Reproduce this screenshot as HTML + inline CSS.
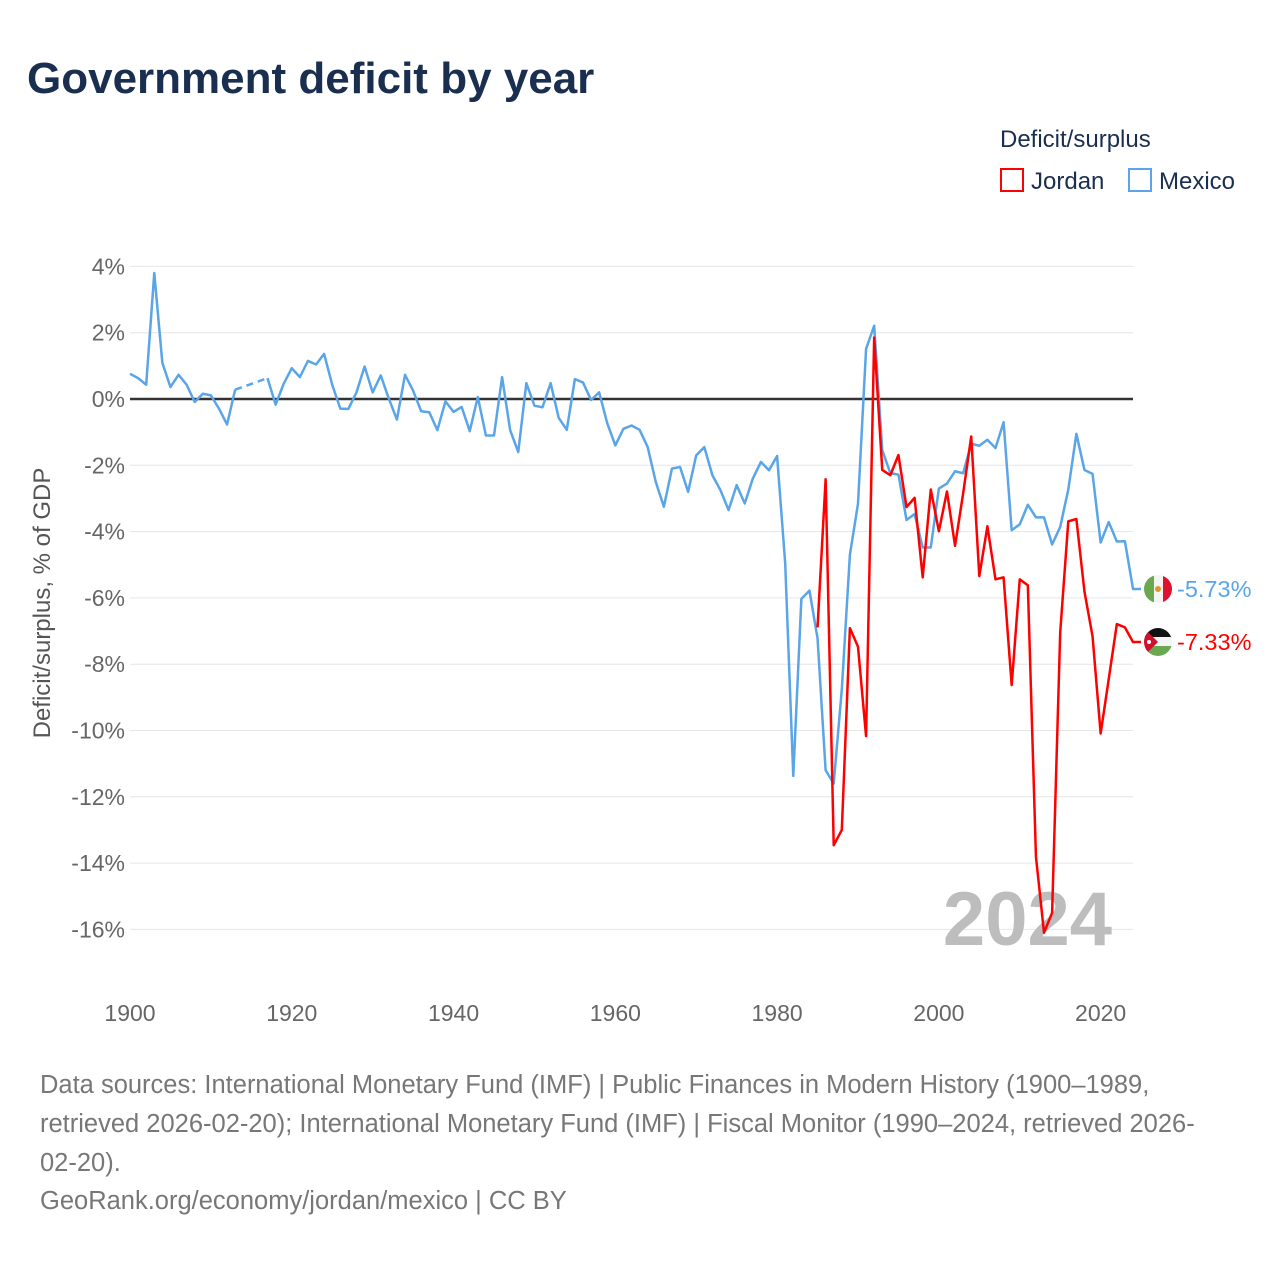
<!DOCTYPE html>
<html><head><meta charset="utf-8"><style>
body{margin:0;background:#fff;width:1280px;height:1280px;overflow:hidden;font-family:"Liberation Sans",sans-serif}
svg text{font-family:"Liberation Sans",sans-serif}
</style></head><body>
<svg id="chart" width="1280" height="1280" xmlns="http://www.w3.org/2000/svg">
<text x="27" y="93" font-size="44" font-weight="bold" fill="#1a2e4f">Government deficit by year</text>
<text x="1000" y="147" font-size="24" fill="#1a2e4f">Deficit/surplus</text>
<g><rect x="1001" y="169" width="22" height="22" fill="none" stroke="#ff0000" stroke-width="2"/><text x="1031" y="189" font-size="24" fill="#1a2e4f">Jordan</text></g>
<g><rect x="1129" y="169" width="22" height="22" fill="none" stroke="#5aa5e8" stroke-width="2"/><text x="1159" y="189" font-size="24" fill="#1a2e4f">Mexico</text></g>
<text transform="translate(50,603) rotate(-90)" text-anchor="middle" font-size="24" fill="#555">Deficit/surplus, % of GDP</text>
<g id="grid"></g>
<text x="1112" y="945" text-anchor="end" font-size="76" font-weight="bold" fill="#bdbdbd">2024</text>
<g id="series"></g>
<g>
<clipPath id="cm"><circle cx="1158" cy="589" r="14"/></clipPath>
<g clip-path="url(#cm)"><rect x="1144" y="575" width="10" height="28" fill="#6aa84f"/><rect x="1154" y="575" width="9" height="28" fill="#f4f4f4"/><rect x="1163" y="575" width="10" height="28" fill="#e0102f"/><circle cx="1158" cy="589" r="3" fill="#e0952f"/></g>
<text x="1177" y="597" font-size="23.5" fill="#5aa5e8">-5.73%</text></g>
<g>
<clipPath id="cj"><circle cx="1158" cy="642" r="14"/></clipPath>
<g clip-path="url(#cj)"><rect x="1144" y="628" width="28" height="10" fill="#111"/><rect x="1144" y="637" width="28" height="10" fill="#f4f4f4"/><rect x="1144" y="646" width="28" height="10" fill="#6aa84f"/><polygon points="1144,628 1158,642 1144,656" fill="#d0102f"/><circle cx="1149" cy="642" r="2" fill="#fff"/></g>
<text x="1177" y="650" font-size="23.5" fill="#ff0000">-7.33%</text></g>
<g font-size="25.5" fill="#777">
<text x="40" y="1093">Data sources: International Monetary Fund (IMF) | Public Finances in Modern History (1900–1989,</text>
<text x="40" y="1132">retrieved 2026-02-20); International Monetary Fund (IMF) | Fiscal Monitor (1990–2024, retrieved 2026-</text>
<text x="40" y="1171">02-20).</text>
<text x="40" y="1209">GeoRank.org/economy/jordan/mexico | CC BY</text>
</g>
</svg>
<script>
const yTicks=[4,2,0,-2,-4,-6,-8,-10,-12,-14,-16];
const xTicks=[1900,1920,1940,1960,1980,2000,2020];
const mexicoStart=1900;
const mexicoValues=[0.76,0.63,0.43,3.8,1.09,0.36,0.73,0.43,-0.09,0.16,0.11,-0.29,-0.77,0.28,null,null,null,0.63,-0.17,0.46,
0.93,0.66,1.15,1.04,1.36,0.43,-0.29,-0.3,0.2,0.98,0.2,0.71,0.01,-0.62,0.73,0.25,-0.37,-0.4,-0.94,-0.07,
-0.39,-0.24,-0.97,0.06,-1.1,-1.1,0.66,-0.94,-1.6,0.48,-0.2,-0.25,0.48,-0.57,-0.93,0.6,0.5,-0.03,0.2,-0.73,
-1.4,-0.9,-0.8,-0.93,-1.45,-2.5,-3.25,-2.1,-2.05,-2.8,-1.7,-1.45,-2.3,-2.75,-3.35,-2.6,-3.15,-2.4,-1.9,-2.15,
-1.72,-4.95,-11.37,-6.03,-5.78,-7.22,-11.2,-11.6,-8.76,-4.7,-3.16,1.51,2.21,-1.54,-2.24,-2.28,-3.65,-3.47,-4.48,-4.48,
-2.7,-2.55,-2.18,-2.24,-1.35,-1.41,-1.23,-1.48,-0.7,-3.96,-3.78,-3.19,-3.57,-3.57,-4.39,-3.86,-2.73,-1.05,-2.14,-2.26,
-4.33,-3.71,-4.3,-4.29,-5.73];
const jordanStart=1985;
const jordanValues=[-6.89,-2.42,-13.46,-13.0,-6.91,-7.47,-10.17,1.85,-2.14,-2.3,-1.69,-3.26,-2.98,-5.38,-2.73,
-3.99,-2.79,-4.43,-2.85,-1.13,-5.34,-3.84,-5.44,-5.38,-8.63,-5.44,-5.62,-13.8,-16.1,-15.5,-7.04,-3.69,-3.62,-5.81,-7.16,
-10.09,-8.45,-6.79,-6.89,-7.33];
const NS="http://www.w3.org/2000/svg";
const X0=130,X1=1133,Y0=399,PER2=66.3;
function xs(y){return X0+(y-1900)*(X1-X0)/124;}
function ys(v){return Y0-v*PER2/2;}
const grid=document.getElementById('grid');
yTicks.forEach(t=>{
 const l=document.createElementNS(NS,'line');
 
 
 l.setAttribute('x1',X0);l.setAttribute('x2',X1);l.setAttribute('y1',ys(t));l.setAttribute('y2',ys(t));
 l.setAttribute('stroke',t===0?'#333':'#e6e6e6');l.setAttribute('stroke-width',t===0?2.5:1);
 grid.appendChild(l);
 const tx=document.createElementNS(NS,'text');
 
 
 tx.setAttribute('x',125);tx.setAttribute('y',ys(t)+8);tx.setAttribute('text-anchor','end');
 tx.setAttribute('font-size','23');tx.setAttribute('fill','#666');tx.textContent=t+'%';
 grid.appendChild(tx);
});
xTicks.forEach(t=>{
 const tx=document.createElementNS(NS,'text');
 
 
 tx.setAttribute('x',xs(t));tx.setAttribute('y',1021);tx.setAttribute('text-anchor','middle');
 tx.setAttribute('font-size','23');tx.setAttribute('fill','#666');tx.textContent=t;
 grid.appendChild(tx);
});
const ser=document.getElementById('series');
function draw(start,vals,color,name){
 let d='',dash='',prev=null,pen=false;
 vals.forEach((v,i)=>{
  if(v===null){pen=false;return;}
  const px=xs(start+i),py=ys(v);
  if(!pen){
   if(prev&&prev.i<i-1) dash+='M'+prev.x+','+prev.y+'L'+px+','+py;
   d+='M'+px+','+py;pen=true;
  } else d+='L'+px+','+py;
  prev={x:px,y:py,i:i};
 });
 const last=vals[vals.length-1];
 d+='L'+(xs(start+vals.length-1)+8)+','+ys(last);
 const p=document.createElementNS(NS,'path');
 
 
 p.setAttribute('d',d);p.setAttribute('fill','none');p.setAttribute('stroke',color);p.setAttribute('stroke-width','2.5');p.setAttribute('stroke-linejoin','round');
 ser.appendChild(p);
 if(dash){
  const q=document.createElementNS(NS,'path');
  
  
  q.setAttribute('d',dash);q.setAttribute('fill','none');q.setAttribute('stroke',color);q.setAttribute('stroke-width','2.5');q.setAttribute('stroke-dasharray','7,5');
  ser.appendChild(q);
 }
}
draw(mexicoStart,mexicoValues,'#5aa5e8','mexico');
draw(jordanStart,jordanValues,'#ff0000','jordan');
</script>
</body></html>
